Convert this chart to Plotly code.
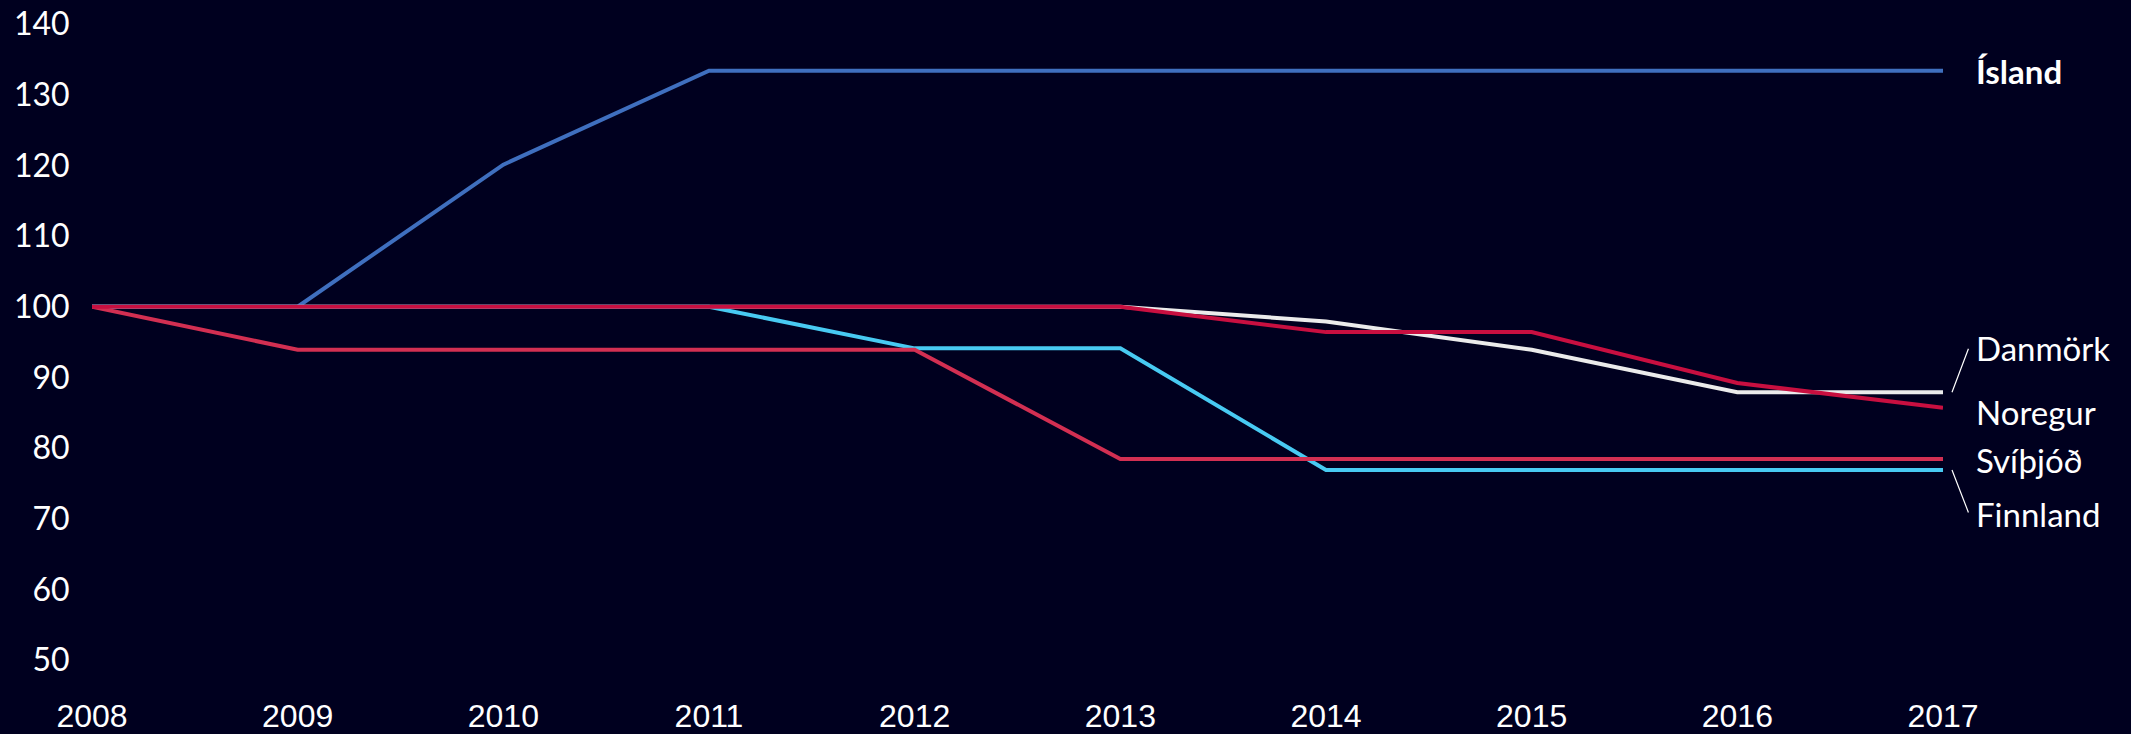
import plotly.graph_objects as go

years = [2008, 2009, 2010, 2011, 2012, 2013, 2014, 2015, 2016, 2017]
island = [100, 100, 120.1, 133.4, 133.4, 133.4, 133.4, 133.4, 133.4, 133.4]
danmork = [100, 100, 100, 100, 100, 100, 97.9, 93.9, 87.9, 87.9]
noregur = [100, 100, 100, 100, 100, 100, 96.4, 96.4, 89.2, 85.7]
svithjod = [100, 93.9, 93.9, 93.9, 93.9, 78.45, 78.45, 78.45, 78.45, 78.45]
finnland = [100, 100, 100, 100, 94.1, 94.1, 76.9, 76.9, 76.9, 76.9]

y_ticks = [50, 60, 70, 80, 90, 100, 110, 120, 130, 140]

series = [
    ("Ísland", island, "#3f6fbf"),
    ("Danmörk", danmork, "#ebebeb"),
    ("Finnland", finnland, "#48caf2"),
    ("Svíþjóð", svithjod, "#d22f52"),
    ("Noregur", noregur, "#c80f40"),
]

BG = "#00001f"
fig = go.Figure()
for name, vals, col in series:
    fig.add_trace(go.Scatter(x=years, y=vals, mode="lines", name=name,
                             line=dict(color=col, width=4), hoverinfo="skip"))

label_font = dict(family="Lato, Open Sans, sans-serif", size=33, color="white")
# (name, series values, yshift, bold, leader (dx0, dx1, dy up))
labels = [
    ("Ísland", island, 0, True, None),
    ("Danmörk", danmork, 44, False, (9, 26, 45)),
    ("Noregur", noregur, -4, False, None),
    ("Svíþjóð", svithjod, -1, False, None),
    ("Finnland", finnland, -44, False, (9, 26, -44)),
]
for name, vals, ys, bold, leader in labels:
    fig.add_annotation(x=years[-1], y=vals[-1], xref="x", yref="y",
                       text=f"<b>{name}</b>" if bold else name,
                       showarrow=False, xanchor="left", yanchor="middle",
                       xshift=31, yshift=ys, font=label_font)
    if leader:
        fig.add_annotation(x=years[-1], y=vals[-1], xref="x", yref="y",
                           text="", showarrow=True, arrowhead=0, arrowwidth=1.2,
                           arrowcolor="white", standoff=0, startstandoff=0,
                           xshift=leader[0], ax=leader[1] - leader[0], ay=-leader[2],
                           font=dict(size=1))

fig.update_layout(
    width=2131, height=734,
    margin=dict(l=92, r=188, t=24, b=74, pad=0),
    paper_bgcolor=BG, plot_bgcolor=BG,
    showlegend=False,
    xaxis=dict(range=[years[0], years[-1]], tickvals=years, ticktext=[str(y) for y in years],
               showgrid=False, zeroline=False, showline=False, automargin=False,
               ticks="outside", ticklen=28, tickcolor="rgba(0,0,0,0)",
               tickfont=dict(family="Liberation Sans Narrow, Arial Narrow, Liberation Sans, Arial",
                             size=32, color="white")),
    yaxis=dict(range=[50, 140], tickvals=y_ticks, ticktext=[str(v) for v in y_ticks],
               showgrid=False, zeroline=False, showline=False, automargin=False,
               ticks="outside", ticklen=15, tickcolor="rgba(0,0,0,0)",
               tickfont=dict(family="Lato, Open Sans, sans-serif", size=32, color="white")),
)

fig.write_html("out.html", config={"displayModeBar": False},
               post_script="document.body.style.margin='0';document.body.style.background='#00001f';document.body.style.overflow='hidden';")
